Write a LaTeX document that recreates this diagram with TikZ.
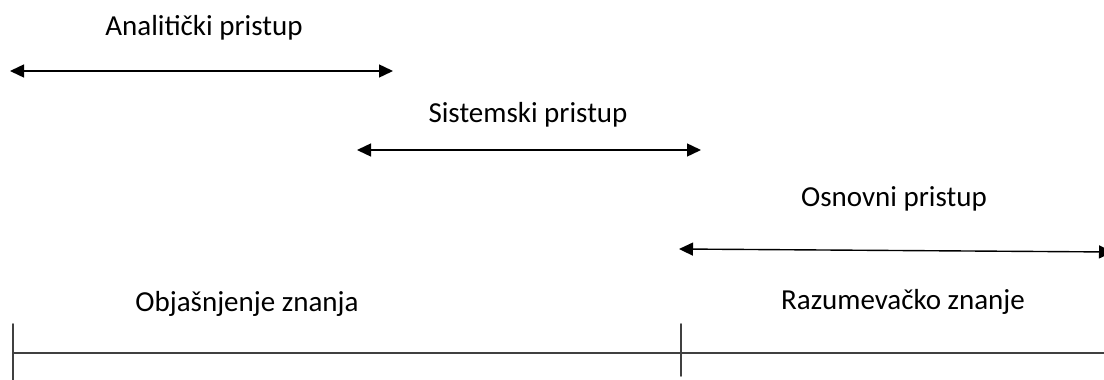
\documentclass[tikz,border=0pt]{standalone}
\usepackage{fontspec}
\setmainfont{Carlito}
\usetikzlibrary{arrows.meta}
\begin{document}
\begin{tikzpicture}[x=1pt,y=-1pt,line cap=round,line join=round,
  spanarrow/.style={line width=1.4pt,{Triangle[length=14pt,width=13pt]}-{Triangle[length=14pt,width=13pt]}},
  axisline/.style={line width=1.6pt,draw=black!75},
  lbl/.style={font=\fontsize{29}{34}\selectfont}]
  \useasboundingbox (0,0) rectangle (1104,380);

  % the three approaches
  \coordinate (A1) at (10,71);  \coordinate (A2) at (393,71);
  \coordinate (S1) at (357,150); \coordinate (S2) at (701,150);
  \coordinate (O1) at (679,249); \coordinate (O2) at (1113,252);
  \draw[spanarrow] (A1) -- (A2);
  \draw[spanarrow] (S1) -- (S2);
  \draw[spanarrow] (O1) -- (O2);
  \node[lbl] (analiticki) at (204,28) {Analitički pristup};
  \node[lbl] (sistemski) at (528,115) {Sistemski pristup};
  \node[lbl] (osnovni) at (894,199) {Osnovni pristup};

  % knowledge axis
  \coordinate (L) at (13,353); \coordinate (M) at (681,353); \coordinate (R) at (1104,353);
  \draw[axisline] (13,324) -- (13,380);
  \draw[axisline] (681,324) -- (681,376);
  \draw[axisline] (L) -- (R);
  \node[lbl] (objasnjenje) at (247,304) {Objašnjenje znanja};
  \node[lbl] (razumevacko) at (903,302) {Razumevačko znanje};
\end{tikzpicture}
\end{document}
